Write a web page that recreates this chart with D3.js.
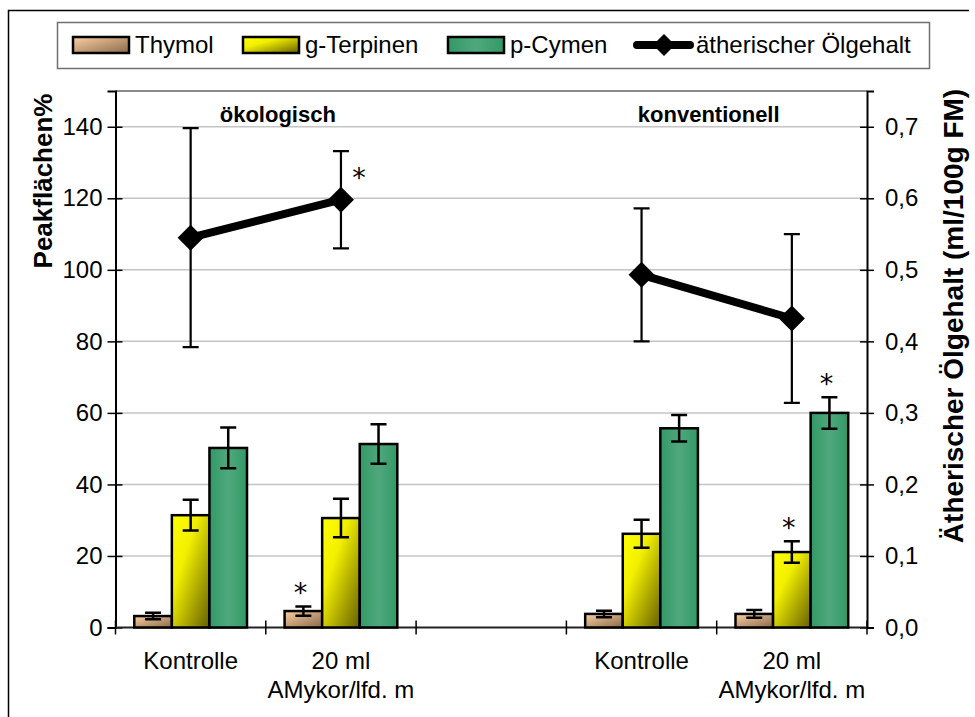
<!DOCTYPE html>
<html><head><meta charset="utf-8">
<script src="https://cdn.jsdelivr.net/npm/d3@7"></script>
<style>
body{margin:0;background:#fff;}
svg text{font-family:"Liberation Sans",Arial,sans-serif;fill:#000;}
</style></head><body>
<svg id="chart" width="975" height="717"></svg>
<script>
// Categories on the x axis ("|" marks a line break); the middle slot stays empty
const categories = ["Kontrolle", "20 ml|AMykor/lfd. m", "", "Kontrolle", "20 ml|AMykor/lfd. m"];
const groupLabels = ["ökologisch", "konventionell"];

// Peak areas (%), mean and error
const seriesNames = ["Thymol", "g-Terpinen", "p-Cymen"];
const thymol      = [3.2, 4.6, null, 3.8, 3.8];
const thymolErr   = [0.9, 1.3, null, 0.9, 1.1];
const terpinen    = [31.4, 30.6, null, 26.2, 21.1];
const terpinenErr = [4.3, 5.4, null, 3.9, 3.0];
const cymen       = [50.2, 51.3, null, 55.7, 60.0];
const cymenErr    = [5.7, 5.5, null, 3.7, 4.4];

// Essential oil content (ml/100g FM), right axis
const oilName = "ätherischer Ölgehalt";
const oil     = [0.545, 0.598, null, 0.493, 0.432];
const oilErr  = [0.153, 0.068, null, 0.093, 0.118];

// Significance markers (1 = asterisk)
const thymolSig   = [0, 1, 0, 0, 0];
const terpinenSig = [0, 0, 0, 0, 1];
const cymenSig    = [0, 0, 0, 0, 1];
const oilSig      = [0, 1, 0, 0, 0];

const leftTicks  = [0, 20, 40, 60, 80, 100, 120, 140];
const rightTicks = [0, 0.1, 0.2, 0.3, 0.4, 0.5, 0.6, 0.7];
const leftTitle  = "Peakflächen%";
const rightTitle = "Ätherischer Ölgehalt (ml/100g FM)";

const svg = d3.select("#chart");
const plot = {left: 115.5, right: 867, top: 91, bottom: 627.5};

const x = d3.scaleBand().domain(d3.range(categories.length)).range([plot.left, plot.right]).padding(0);
const xs = d3.scaleBand().domain(d3.range(seriesNames.length)).range([0, x.bandwidth()]).paddingInner(0).paddingOuter(0.5);
const yL = d3.scaleLinear().domain([0, 150]).range([plot.bottom, plot.top]);
const yR = d3.scaleLinear().domain([0, 0.75]).range([plot.bottom, plot.top]);

// gradients
const defs = svg.append("defs");
const g1 = defs.append("linearGradient").attr("id", "gThymol").attr("x1", 0).attr("y1", 0).attr("x2", 1).attr("y2", 1);
g1.append("stop").attr("offset", 0).attr("stop-color", "#fccfa2");
g1.append("stop").attr("offset", 1).attr("stop-color", "#8a6a4b");
const g2 = defs.append("linearGradient").attr("id", "gTerp").attr("x1", 0).attr("y1", 0).attr("x2", 1).attr("y2", 1);
g2.append("stop").attr("offset", 0).attr("stop-color", "#ffff00");
g2.append("stop").attr("offset", 0.35).attr("stop-color", "#f2f000");
g2.append("stop").attr("offset", 1).attr("stop-color", "#665f00");
const g3 = defs.append("linearGradient").attr("id", "gCym").attr("x1", 0).attr("y1", 0).attr("x2", 1).attr("y2", 0);
g3.append("stop").attr("offset", 0).attr("stop-color", "#339966");
g3.append("stop").attr("offset", 0.5).attr("stop-color", "#4fa87c");
g3.append("stop").attr("offset", 1).attr("stop-color", "#339966");
const fills = ["url(#gThymol)", "url(#gTerp)", "url(#gCym)"];

// outer frame (left and top edges)
svg.append("path").attr("d", "M8.5,717V10.5H969").attr("fill", "none").attr("stroke", "#000").attr("stroke-width", 1.5);

// gridlines
svg.append("g").selectAll("line").data(leftTicks.filter(d => d > 0)).join("line")
  .attr("x1", plot.left).attr("x2", plot.right)
  .attr("y1", d => yL(d)).attr("y2", d => yL(d))
  .attr("stroke", "#c4c4c4").attr("stroke-width", 1.5);
// plot area top edge
svg.append("line").attr("x1", plot.left).attr("x2", plot.right).attr("y1", plot.top).attr("y2", plot.top)
  .attr("stroke", "#8a8a8a").attr("stroke-width", 2);

// axes
const axL = svg.append("g").attr("transform", `translate(${plot.left},0)`)
  .call(d3.axisLeft(yL).tickValues(leftTicks).tickSize(8).tickPadding(5).tickFormat(d3.format("d")));
const axR = svg.append("g").attr("transform", `translate(${plot.right},0)`)
  .call(d3.axisRight(yR).tickValues(rightTicks).tickSize(7).tickPadding(11).tickFormat(d => d3.format(".1f")(d).replace(".", ",")));
[axL, axR].forEach(a => {
  a.select(".domain").attr("stroke", "#000").attr("stroke-width", 2);
  a.selectAll(".tick line").attr("stroke", "#000").attr("stroke-width", 1.5);
  a.selectAll(".tick text").attr("font-size", 24).attr("fill", "#000")
    .style("font-family", '"Liberation Sans",Arial,sans-serif');
});
// cross tick marks on the inner side
axL.selectAll(".tick").append("line").attr("x1", 0).attr("x2", 7).attr("stroke", "#000").attr("stroke-width", 1.5);
axR.selectAll(".tick").append("line").attr("x1", 0).attr("x2", -7).attr("stroke", "#000").attr("stroke-width", 1.5);

// category axis
svg.append("line").attr("x1", plot.left).attr("x2", plot.right).attr("y1", plot.bottom).attr("y2", plot.bottom)
  .attr("stroke", "#222").attr("stroke-width", 2);
const catEdges = d3.range(categories.length + 1).map(i => plot.left + i * x.step());
svg.append("g").selectAll("line").data(catEdges).join("line")
  .attr("x1", d => d).attr("x2", d => d).attr("y1", plot.bottom - 7).attr("y2", plot.bottom + 7)
  .attr("stroke", "#000").attr("stroke-width", 1.5);
const catText = svg.append("g").selectAll("text").data(categories).join("text")
  .attr("text-anchor", "middle").attr("font-size", 24)
  .attr("x", (d, i) => x(i) + x.bandwidth() / 2).attr("y", 669);
catText.selectAll("tspan").data(d => d ? d.split("|") : []).join("tspan")
  .attr("x", function () { return d3.select(this.parentNode).attr("x"); })
  .attr("dy", (d, i) => i === 0 ? 0 : 29).text(d => d);

// group labels
const groupDx = [12, -8];
svg.append("g").selectAll("text").data(groupLabels).join("text")
  .attr("text-anchor", "middle").attr("font-size", 22).attr("font-weight", "bold")
  .attr("x", (d, i) => x(i * 3) + x.step() + groupDx[i]).attr("y", 122).text(d => d);

// bars
const series = [
  {vals: thymol, err: thymolErr, sig: thymolSig},
  {vals: terpinen, err: terpinenErr, sig: terpinenSig},
  {vals: cymen, err: cymenErr, sig: cymenSig}
];
const barG = svg.append("g");
series.forEach((s, si) => {
  s.vals.forEach((v, ci) => {
    if (v == null) return;
    const bx = x(ci) + xs(si);
    barG.append("rect").attr("x", bx).attr("y", yL(v)).attr("width", xs.bandwidth()).attr("height", yL(0) - yL(v))
      .attr("fill", fills[si]).attr("stroke", "#000").attr("stroke-width", 2.5);
  });
});
// bar error bars and asterisks
const errG = svg.append("g").attr("stroke", "#000").attr("stroke-width", 2.5);
const sigG = svg.append("g");
function star(cx, cy) {
  sigG.append("text").attr("x", cx).attr("y", cy + 15).attr("text-anchor", "middle")
    .attr("font-size", 27).style("font-family", '"DejaVu Sans",sans-serif').attr("fill", "#222").text("*");
}
series.forEach((s, si) => {
  s.vals.forEach((v, ci) => {
    if (v == null) return;
    const cx = x(ci) + xs(si) + xs.bandwidth() / 2;
    const e = s.err[ci];
    errG.append("path").attr("fill", "none")
      .attr("d", `M${cx},${yL(v + e)}V${yL(v - e)}M${cx - 8},${yL(v + e)}H${cx + 8}M${cx - 8},${yL(v - e)}H${cx + 8}`);
    if (s.sig[ci]) star(cx - 3, yL(v + e) - 19);
  });
});

// essential oil line
const oilPts = oil.map((v, i) => ({i, v, e: oilErr[i], s: oilSig[i]}));
const oilErrG = svg.append("g").attr("stroke", "#000").attr("stroke-width", 2.2);
oilPts.filter(d => d.v != null).forEach(d => {
  const cx = x(d.i) + x.bandwidth() / 2;
  oilErrG.append("path").attr("fill", "none")
    .attr("d", `M${cx},${yR(d.v + d.e)}V${yR(d.v - d.e)}M${cx - 8},${yR(d.v + d.e)}H${cx + 8}M${cx - 8},${yR(d.v - d.e)}H${cx + 8}`);
  if (d.s) star(cx + 18, yR(d.v) - 28);
});
const line = d3.line().defined(d => d.v != null).x(d => x(d.i) + x.bandwidth() / 2).y(d => yR(d.v));
svg.append("path").datum(oilPts).attr("d", line).attr("fill", "none")
  .attr("stroke", "#000").attr("stroke-width", 8).attr("stroke-linejoin", "round");
const diamond = "M0,-13L13,0L0,13L-13,0Z";
svg.append("g").selectAll("path").data(oilPts.filter(d => d.v != null)).join("path")
  .attr("transform", d => `translate(${x(d.i) + x.bandwidth() / 2},${yR(d.v)})`)
  .attr("d", diamond).attr("fill", "#000");

// axis titles
svg.append("text").attr("transform", "translate(52,181) rotate(-90)")
  .attr("text-anchor", "middle").attr("font-size", 26).attr("font-weight", "bold").text(leftTitle);
svg.append("text").attr("transform", "translate(963,316) rotate(-90)")
  .attr("text-anchor", "middle").attr("font-size", 28).attr("font-weight", "bold").text(rightTitle);

// legend
const leg = svg.append("g");
leg.append("rect").attr("x", 57.5).attr("y", 22.5).attr("width", 872).attr("height", 46)
  .attr("fill", "#fff").attr("stroke", "#707070").attr("stroke-width", 1.5);
const legX = [73, 243, 448];
seriesNames.forEach((n, i) => {
  leg.append("rect").attr("x", legX[i]).attr("y", 37).attr("width", 56).attr("height", 16)
    .attr("fill", fills[i]).attr("stroke", "#000").attr("stroke-width", 2.5);
  leg.append("text").attr("x", legX[i] + 62).attr("y", 53).attr("font-size", 24).text(n);
});
leg.append("line").attr("x1", 637).attr("x2", 690).attr("y1", 45).attr("y2", 45)
  .attr("stroke", "#000").attr("stroke-width", 8).attr("stroke-linecap", "round");
leg.append("path").attr("transform", "translate(664,45)").attr("d", "M0,-11L11,0L0,11L-11,0Z").attr("fill", "#000");
leg.append("text").attr("x", 696).attr("y", 53).attr("font-size", 24).text(oilName);
</script>
</body></html>
